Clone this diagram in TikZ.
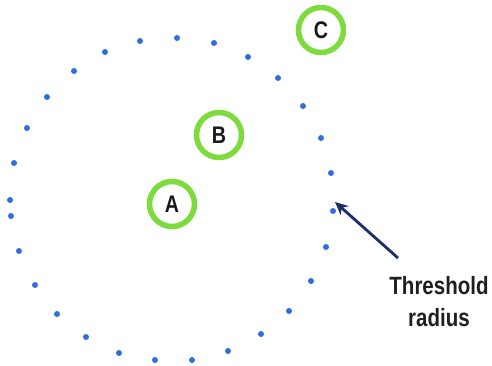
\documentclass[tikz,border=0pt]{standalone}
\usepackage{fontspec}
\setmainfont{Liberation Sans}[FakeStretch=0.82]
\usetikzlibrary{arrows.meta}
\definecolor{ringgreen}{HTML}{7EDB3E}
\definecolor{dotblue}{HTML}{2F6FDC}
\definecolor{navy}{HTML}{1F2D6B}
\tikzset{
  ring/.style={circle, draw=ringgreen, line width=5.5pt, fill=white, minimum size=45pt, inner sep=0pt, font=\fontsize{24}{26}\selectfont\bfseries, text=black!90},
  dot/.style={circle, fill=dotblue, inner sep=0pt, minimum size=6pt},
  pointer/.style={draw=navy, line width=2.8pt, -{Stealth[length=13pt,width=12pt]}},
  label/.style={align=center, font=\fontsize{25}{32}\selectfont\bfseries, text=black!88}
}
\begin{document}
\begin{tikzpicture}[x=1pt,y=-1pt]
\useasboundingbox (0,0) rectangle (492,366);
\foreach \px/\py [count=\i] in {140/41,177/38,214/43,248/57,278/78,303/106,321/138,331/173,333/211,326/247,311/281,289/311,261/334,228/351,192/360,155/360,119/353,86/337,57/314,35/285,19/251,11/216,10/200,14/163,27/128,47/97,74/71,105/52}
  \node[dot] (d\i) at (\px,\py) {};
\node[ring] (A) at (172,204) {A};
\node[ring] (B) at (219,135) {B};
\node[ring] (C) at (321,30) {C};
\node[label] (T) at (439,302) {Threshold\\radius};
\coordinate (tail) at (398,258);
\coordinate (tip) at (335,202);
\draw[pointer] (tail) -- (tip);
\end{tikzpicture}
\end{document}
